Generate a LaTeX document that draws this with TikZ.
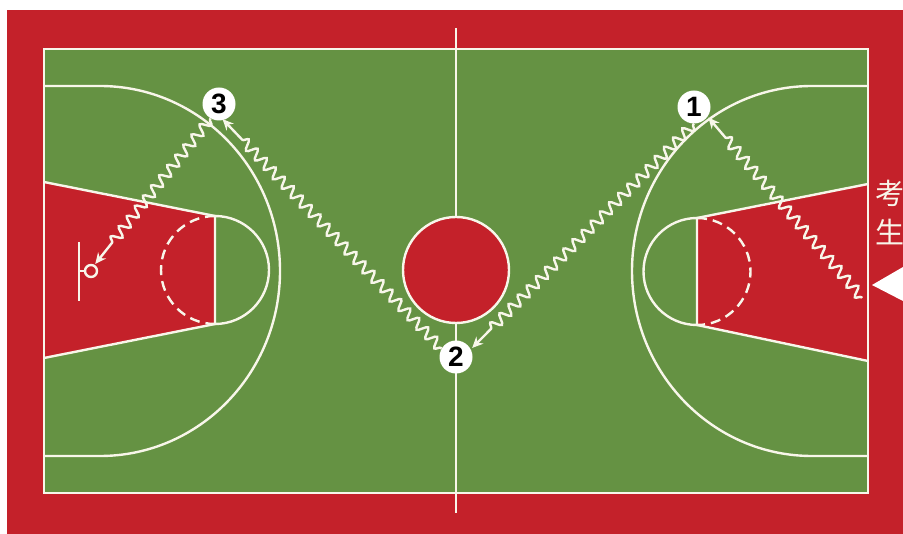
\documentclass[tikz,border=0pt]{standalone}
\usepackage{fontspec}
\setmainfont{Liberation Sans}
\newfontfamily\cjk{Noto Sans CJK SC}
\usetikzlibrary{arrows.meta,decorations.pathmorphing}
\definecolor{floorred}{HTML}{C4212A}
\definecolor{courtgreen}{HTML}{659243}
\definecolor{chalk}{HTML}{F8F6EA}
\tikzset{
  court/.style={draw=chalk, line width=2.4pt},
  spot/.style={circle, fill=white, minimum size=33pt, inner sep=0pt, font=\bfseries\fontsize{28}{28}\selectfont},
  wave/.style={draw=chalk, line width=2.4pt, shorten >=1pt,
    -{Stealth[length=11pt,width=10pt]},
    decorate, decoration={snake, amplitude=5pt, segment length=13pt, pre length=1pt, post length=#1}},
  wave/.default=24pt,
  sidetext/.style={text=chalk, font=\cjk\fontsize{29}{29}\selectfont, inner sep=0pt},
}
\begin{document}
\begin{tikzpicture}[x=1pt,y=-1pt]
    \useasboundingbox (0,0) rectangle (903,534);
    \fill[white] (0,0) rectangle (903,534);
    \fill[floorred] (7,10) rectangle (903,534);
    \fill[courtgreen] (44,49) rectangle (868,493);
    % keys
    \fill[floorred] (44,182) -- (215,216) -- (215,324) -- (44,358) -- cycle;
    \fill[floorred] (868,184) -- (697,218) -- (697,325) -- (868,361) -- cycle;
    \draw[court] (44,49) rectangle (868,493);
    \draw[court] (456,28) -- (456,513);
    \draw[court, fill=floorred] (456,270) circle[radius=53];
    % left half
    \draw[court] (44,86) -- (100,86) arc[start angle=-90, end angle=90, x radius=180, y radius=185] -- (44,456);
    \draw[court] (44,182) -- (215,216) -- (215,324) -- (44,358);
    \draw[court] (215,216) arc[start angle=-90, end angle=90, radius=54];
    \draw[court, dash pattern=on 10pt off 6pt] (215,216) arc[start angle=270, end angle=90, radius=54];
    \draw[court] (79,242) -- (79,301);
    \draw[court] (79,271) -- (85,271);
    \node[circle, draw=chalk, line width=2.4pt, minimum size=12pt, inner sep=0pt] (hoop) at (91,271) {};
    % right half
    \draw[court] (868,86) -- (812,86) arc[start angle=270, end angle=90, x radius=180, y radius=185] -- (868,456);
    \draw[court] (868,184) -- (697,218) -- (697,325) -- (868,361);
    \draw[court] (697,218) arc[start angle=270, end angle=90, radius=53.5];
    \draw[court, dash pattern=on 10pt off 6pt] (697,218) arc[start angle=-90, end angle=90, radius=53.5];
    % spots
    \node[spot] (one) at (694,107) {1};
    \node[spot] (two) at (456,357) {2};
    \node[spot] (three) at (219,104) {3};
    \coordinate (start) at (862,298);
    % route
    \draw[wave] (start) -- ([xshift=3pt,yshift=3pt]one.-50);
    \draw[wave] (one.south) -- ([xshift=1pt]two.30);
    \draw[wave] (two.150) -- ([yshift=2pt]three.-80);
    \draw[wave] (three.240) -- (hoop.60);
    % entry
    \fill[white] (872,285) -- (903,267) -- (903,301) -- cycle;
    \node[sidetext, anchor=west] (kao) at (875,193) {考};
    \node[sidetext, anchor=west] (sheng) at (875,232) {生};
\end{tikzpicture}
\end{document}
